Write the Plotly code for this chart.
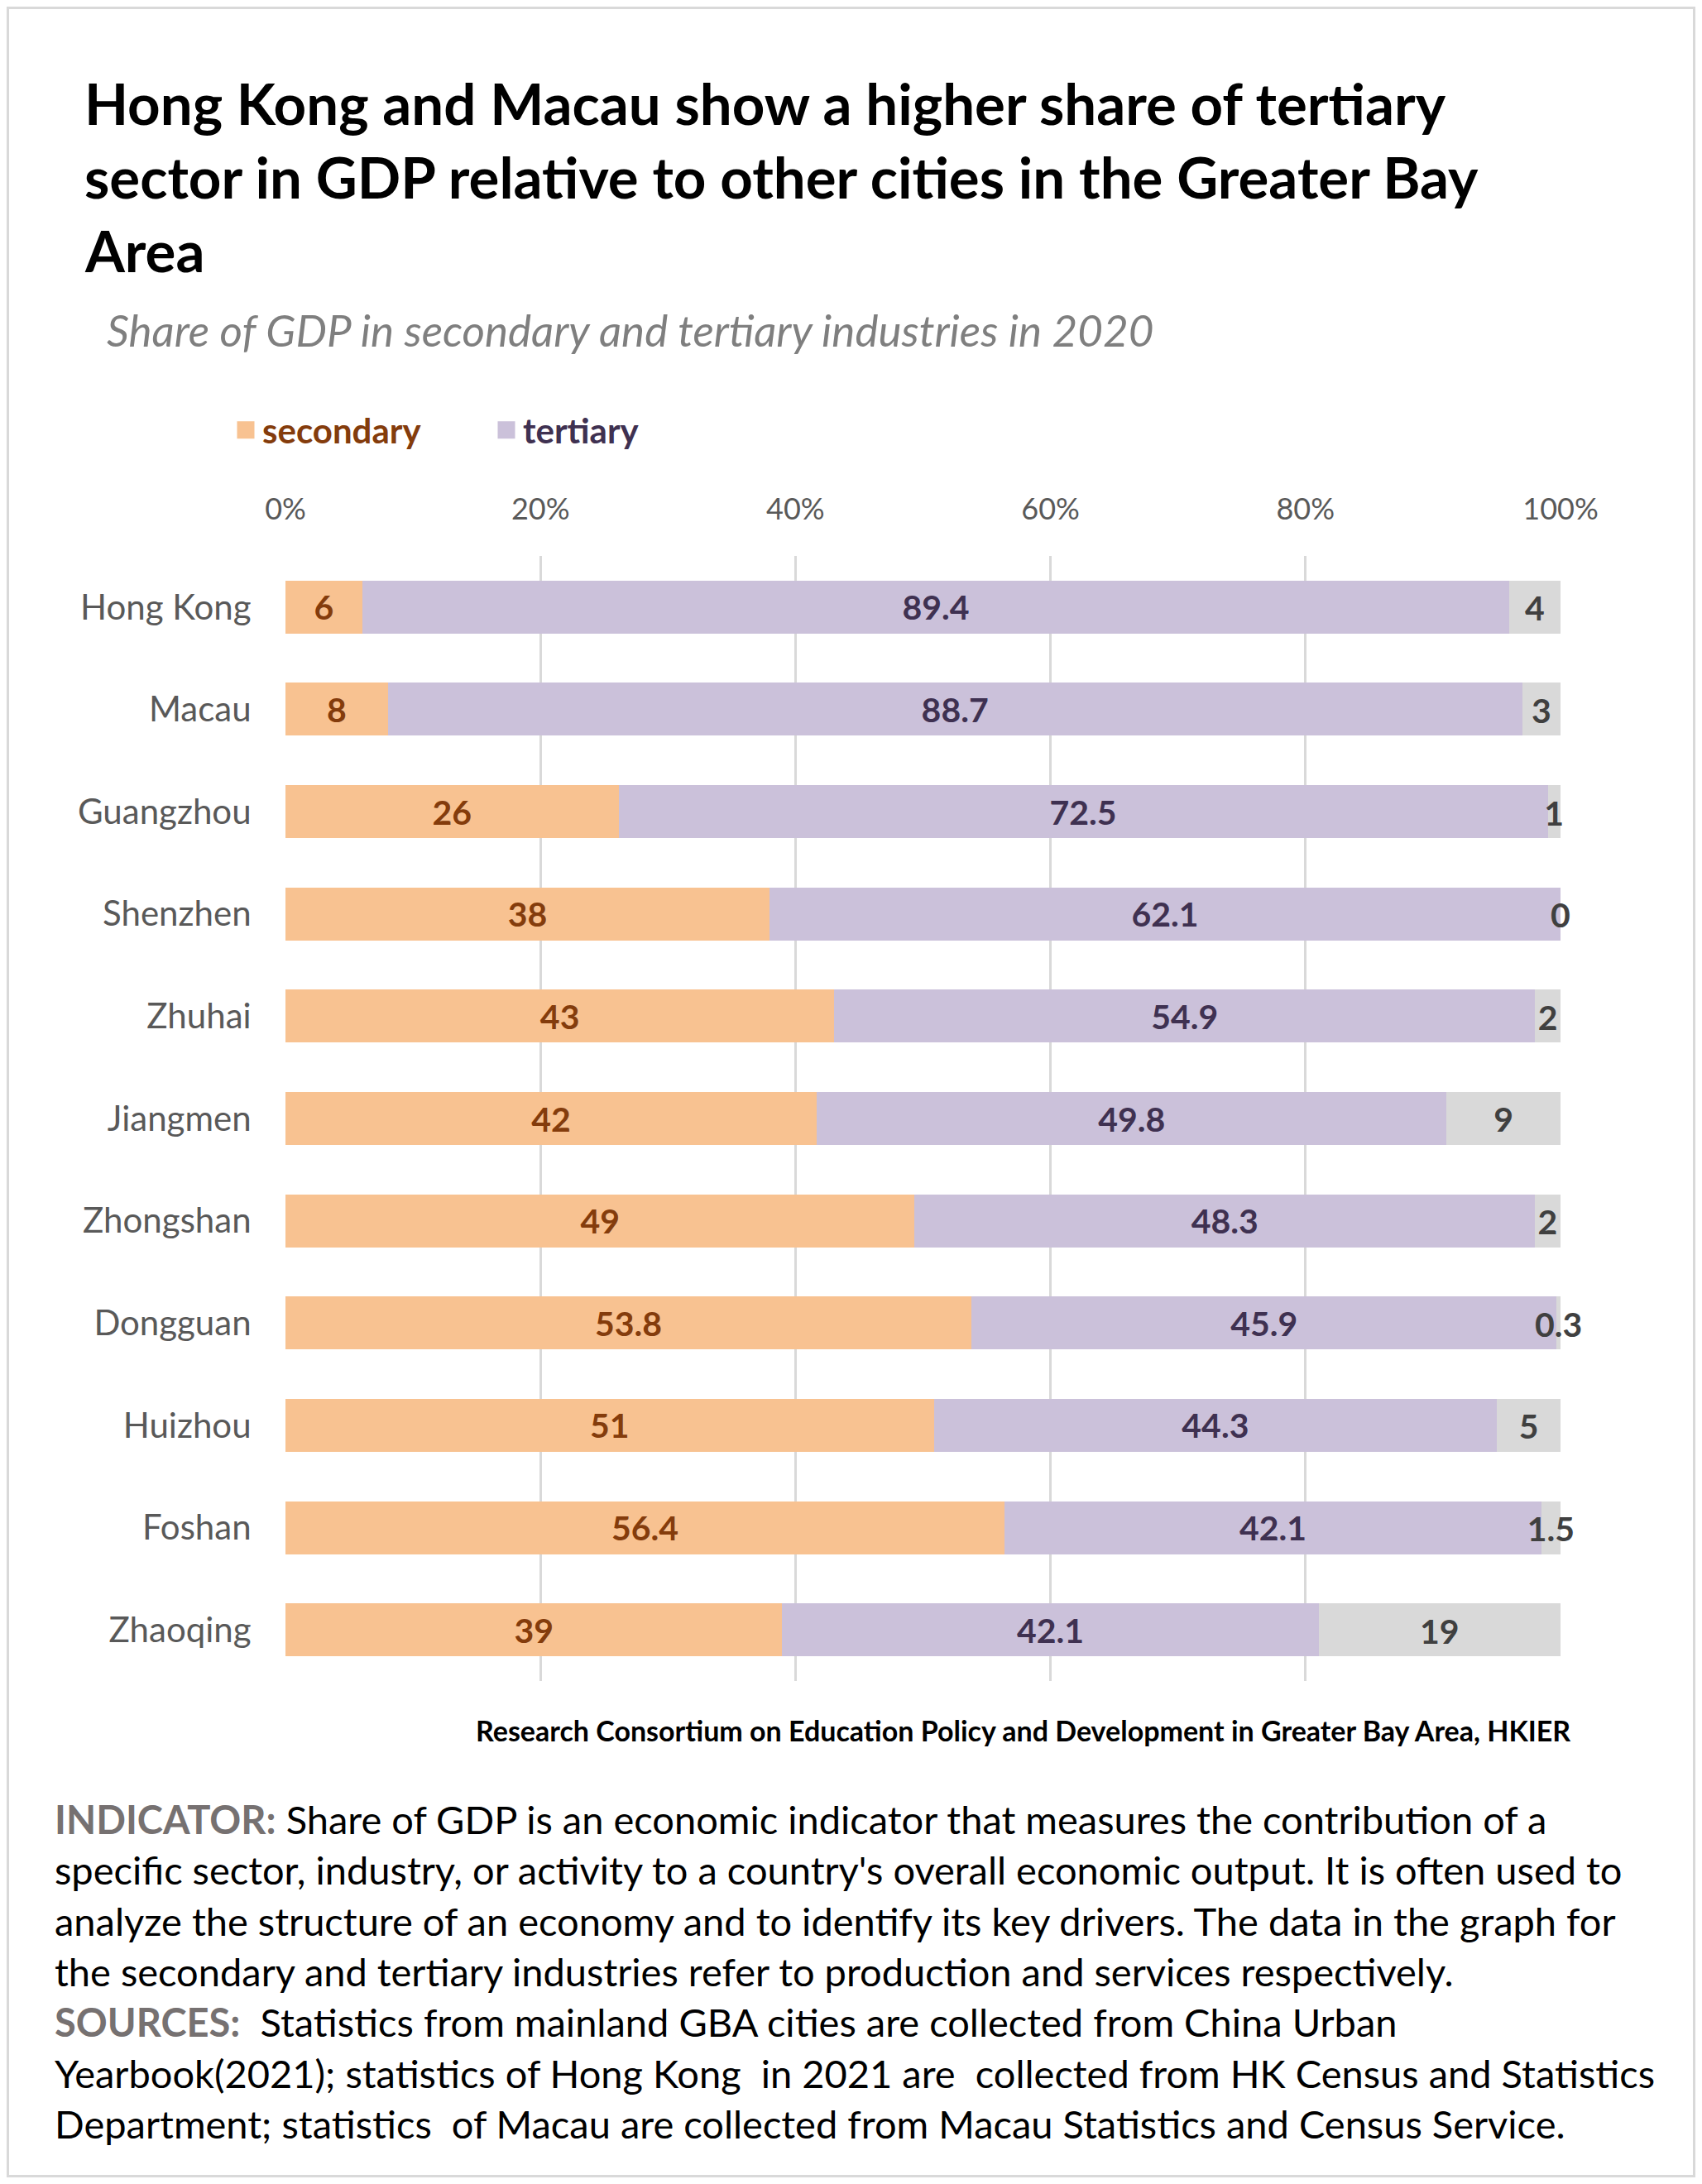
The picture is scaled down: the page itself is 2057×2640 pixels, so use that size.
import plotly.graph_objects as go

cities = ["Hong Kong", "Macau", "Guangzhou", "Shenzhen", "Zhuhai", "Jiangmen",
          "Zhongshan", "Dongguan", "Huizhou", "Foshan", "Zhaoqing"]
secondary = [6, 8, 26, 38, 43, 42, 49, 53.8, 51, 56.4, 39]
tertiary = [89.4, 88.7, 72.5, 62.1, 54.9, 49.8, 48.3, 45.9, 44.3, 42.1, 42.1]
other = [4, 3, 1, 0, 2, 9, 2, 0.3, 5, 1.5, 19]
x_ticks = [0, 20, 40, 60, 80, 100]

# normalise like a 100% stacked bar
totals = [s + t + o for s, t, o in zip(secondary, tertiary, other)]
sec_n = [round(s / tot * 100, 5) for s, tot in zip(secondary, totals)]
ter_n = [round(t / tot * 100, 5) for t, tot in zip(tertiary, totals)]
oth_n = [round(max(100 - a - b, 0), 5) for a, b in zip(sec_n, ter_n)]
oth_mid = [min(a + b + c / 2, 99.999) for a, b, c in zip(sec_n, ter_n, oth_n)]

def fmt(v):
    return "%g" % v

# page has an 8px body margin; figure is placed inside it
OFF = 8
W, H = 2057 - 2 * OFF, 2640 - 2 * OFF
L, T = 345 - OFF, 672 - OFF
R = W - (1886 - OFF)
B = H - (2032 - OFF)
PW, PH = W - L - R, H - T - B

def px(sx):  # screen x -> paper
    return (sx - OFF - L) / PW

def py(sy):  # screen y -> paper
    return (H - B - (sy - OFF)) / PH

def fx(x):  # figure x -> paper
    return (x - L) / PW

def fy(y):
    return (H - B - y) / PH

FONT = "Lato"
C_SEC, C_TER, C_OTH = "#F8C291", "#CBC1DA", "#D9D9D9"
N = len(cities)
TEXT_SHIFT = 0.05  # small downward nudge for the text-only trace (category units)

fig = go.Figure()
fig.add_trace(go.Bar(
    y=cities, x=sec_n, orientation="h", name="secondary", showlegend=False,
    marker=dict(color=C_SEC, line=dict(width=0)),
    text=[fmt(v) for v in secondary], textposition="inside", insidetextanchor="middle",
    textangle=0, textfont=dict(family=FONT, size=41, color="#843C0C", weight="bold"),
    hoverinfo="skip"))
fig.add_trace(go.Bar(
    y=cities, x=ter_n, orientation="h", name="tertiary", showlegend=False,
    marker=dict(color=C_TER, line=dict(width=0)),
    text=[fmt(v) for v in tertiary], textposition="inside", insidetextanchor="middle",
    textangle=0, textfont=dict(family=FONT, size=41, color="#3F3151", weight="bold"),
    hoverinfo="skip"))
fig.add_trace(go.Bar(
    y=cities, x=oth_n, orientation="h", name="other", showlegend=False,
    marker=dict(color=C_OTH, line=dict(width=0)), hoverinfo="skip"))
fig.add_trace(go.Scatter(
    y=cities, x=oth_mid, mode="text", text=[fmt(v) for v in other], yaxis="y2",
    textposition="middle center", showlegend=False, cliponaxis=False,
    textfont=dict(family=FONT, size=41, color="#404040", weight="bold"), hoverinfo="skip"))

# legend entries
for nm, col, tcol in [("secondary", C_SEC, "#843C0C"), ("tertiary", C_TER, "#3F3151")]:
    fig.add_trace(go.Scatter(
        x=[None], y=[None], mode="markers", name="<span style='color:%s'><b>%s</b></span>" % (tcol, nm),
        marker=dict(symbol="square", size=16, color=col, line=dict(color=col, width=5)),
        showlegend=True, hoverinfo="skip"))

annotations = []
title_lines = ["Hong Kong and Macau show a higher share of tertiary",
               "sector in GDP relative to other cities in the Greater Bay",
               "Area"]
for i, line in enumerate(title_lines):
    annotations.append(dict(text="<b>" + line + "</b>", x=px(100), y=py(124 + 89 * i),
                            xref="paper", yref="paper", xanchor="left", yanchor="middle",
                            showarrow=False, font=dict(family=FONT, size=69, color="#000000")))
annotations.append(dict(text="<i>Share of GDP in secondary and tertiary industries in 2020</i>",
                        x=px(127), y=py(398), xref="paper", yref="paper", xanchor="left",
                        yanchor="middle", showarrow=False,
                        font=dict(family=FONT, size=53, color="#7F7F7F")))
annotations.append(dict(text="<b>Research Consortium on Education Policy and Development in Greater Bay Area, HKIER</b>",
                        x=px(1900), y=py(2091), xref="paper", yref="paper", xanchor="right",
                        yanchor="middle", showarrow=False,
                        font=dict(family=FONT, size=34, color="#000000")))
G = "<b><span style='color:#767171'>%s</span></b>"
note_lines = [
    G % "INDICATOR:" + " Share of GDP is an economic indicator that measures the contribution of a",
    "specific sector, industry, or activity to a country's overall economic output. It is often used to",
    "analyze the structure of an economy and to identify its key drivers. The data in the graph for",
    "the secondary and tertiary industries refer to production and services respectively.",
    G % "SOURCES:" + "  Statistics from mainland GBA cities are collected from China Urban",
    "Yearbook(2021); statistics of Hong Kong  in 2021 are  collected from HK Census and Statistics",
    "Department; statistics  of Macau are collected from Macau Statistics and Census Service.",
]
for i, line in enumerate(note_lines):
    annotations.append(dict(text=line, x=px(64), y=py(2199 + 61.3 * i), xref="paper", yref="paper",
                            xanchor="left", yanchor="middle", showarrow=False,
                            font=dict(family=FONT, size=47, color="#000000")))

fig.update_layout(
    width=W, height=H, margin=dict(l=L, r=R, t=T, b=B, autoexpand=False),
    paper_bgcolor="white", plot_bgcolor="white",
    barmode="stack", bargap=0.482,
    font=dict(family=FONT, color="#595959"),
    showlegend=True,
    legend=dict(orientation="h", x=px(277), y=py(520), xanchor="left", yanchor="middle",
                font=dict(family=FONT, size=42), itemwidth=30, traceorder="normal",
                entrywidth=270, entrywidthmode="pixels",
                bgcolor="rgba(0,0,0,0)"),
    annotations=annotations,
    shapes=[dict(type="rect", xref="paper", yref="paper", x0=fx(1.5), x1=fx(W - 1.5),
                 y0=fy(H - 1.5), y1=fy(1.5), line=dict(color="#D9D9D9", width=3), layer="below")],
    xaxis=dict(side="top", range=[0, 100], tickvals=x_ticks,
               ticktext=["%d%%" % v for v in x_ticks],
               showgrid=True, gridcolor="#D9D9D9", gridwidth=3, zeroline=False,
               showline=False, ticks="outside", ticklen=29, tickcolor="rgba(0,0,0,0)",
               tickfont=dict(family=FONT, size=36, color="#595959"), fixedrange=True),
    yaxis=dict(type="category", categoryarray=cities, categoryorder="array",
               range=[N - 0.5, -0.5], showgrid=False, zeroline=False, showline=False,
               ticks="outside", ticklen=32, tickcolor="rgba(0,0,0,0)",
               tickfont=dict(family=FONT, size=42, color="#595959"), fixedrange=True),
    yaxis2=dict(type="category", categoryarray=cities, categoryorder="array",
                overlaying="y", range=[N - 0.5 - TEXT_SHIFT, -0.5 - TEXT_SHIFT],
                visible=False, fixedrange=True),
    uniformtext=dict(mode="show", minsize=41),
)

fig.write_html("out.html")
